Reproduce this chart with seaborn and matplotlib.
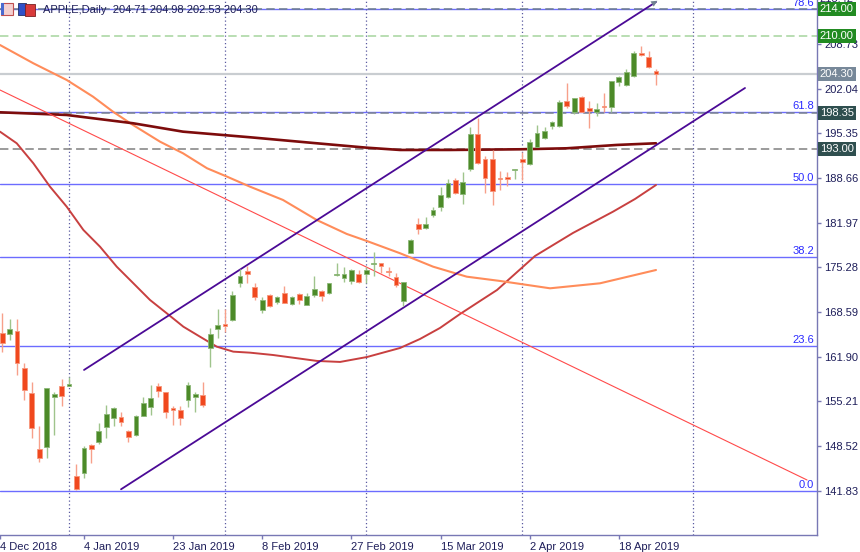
import numpy as np
import pandas as pd
import seaborn as sns
import matplotlib.pyplot as plt
from matplotlib.patches import Rectangle

# ---- daily candles (bar 0 = first visible bar) ----
opens = [165.45, 165.30, 165.75, 160.21, 156.46, 148.07, 148.37, 155.86, 157.51, 157.56,
         144.03, 144.48, 148.67, 149.12, 151.37, 152.77, 152.87, 150.77, 150.16, 153.02,
         154.37, 157.51, 156.61, 154.22, 153.92, 155.41, 155.86, 156.16, 163.25, 166.09,
         166.80, 167.40, 172.94, 174.69, 172.38, 168.89, 171.14, 170.09, 171.39, 169.75,
         171.24, 169.60, 171.19, 171.74, 171.39, 174.09, 173.64, 173.28, 174.29, 174.29,
         175.74, 175.89, 174.73, 173.88, 170.29, 177.47, 181.73, 181.13, 183.12, 184.36,
         185.77, 188.36, 186.22, 189.97, 195.25, 191.46, 191.46, 188.66, 188.81, 189.86,
         191.51, 190.76, 193.35, 194.70, 196.45, 196.45, 200.24, 198.50, 200.84, 199.10,
         198.50, 199.34, 199.30, 203.09, 202.59, 203.98, 207.28, 206.79, 204.71]
highs = [168.44, 167.55, 167.55, 160.96, 158.11, 151.52, 157.21, 156.61, 158.56, 158.81,
         145.83, 148.52, 148.82, 151.97, 154.66, 154.42, 153.62, 150.92, 153.17, 155.86,
         157.66, 157.96, 156.61, 154.51, 154.51, 158.11, 156.61, 158.11, 166.24, 169.04,
         169.00, 171.74, 175.03, 175.53, 172.89, 170.89, 171.29, 170.99, 172.49, 170.99,
         171.48, 171.48, 174.00, 171.89, 172.94, 175.89, 175.29, 175.03, 174.88, 175.29,
         177.63, 175.95, 175.38, 174.39, 173.13, 179.45, 182.72, 182.87, 184.27, 187.36,
         188.47, 188.62, 189.61, 196.26, 197.60, 191.96, 192.86, 189.71, 189.52, 190.01,
         192.50, 194.46, 196.60, 196.35, 197.24, 200.34, 202.85, 200.69, 200.94, 200.20,
         199.85, 201.35, 203.19, 203.94, 204.99, 207.69, 208.43, 207.73, 204.98]
lows = [162.60, 164.40, 159.16, 155.41, 149.72, 146.13, 146.72, 150.16, 154.51, 157.50,
        141.90, 143.73, 145.98, 148.82, 149.72, 151.52, 151.52, 149.12, 150.02, 153.02,
        153.17, 155.86, 152.72, 151.67, 151.67, 154.37, 153.62, 154.37, 160.31, 164.70,
        165.60, 167.25, 172.34, 172.89, 170.39, 168.40, 169.39, 169.79, 169.90, 169.64,
        169.75, 169.60, 170.89, 170.29, 171.35, 173.99, 173.13, 172.79, 172.89, 172.89,
        174.00, 174.48, 173.99, 172.38, 169.49, 177.40, 180.23, 180.98, 182.87, 183.72,
        185.62, 186.27, 184.77, 189.76, 190.76, 186.46, 184.62, 186.87, 187.51, 188.47,
        188.36, 190.61, 193.26, 194.46, 195.96, 196.35, 199.19, 198.20, 198.50, 196.20,
        197.99, 198.50, 198.50, 202.49, 202.49, 203.79, 206.98, 205.09, 202.53]
closes = [163.95, 166.05, 160.96, 156.91, 151.22, 146.72, 157.21, 156.31, 156.01, 157.81,
          142.10, 148.22, 148.07, 150.77, 153.32, 154.27, 152.12, 149.87, 153.02, 154.97,
          155.71, 156.76, 153.62, 153.92, 152.72, 157.66, 156.31, 154.66, 165.25, 166.69,
          166.52, 171.14, 173.99, 174.24, 170.89, 170.39, 169.49, 170.80, 169.99, 170.80,
          170.39, 170.99, 171.99, 171.04, 172.89, 174.29, 174.24, 174.88, 173.13, 174.88,
          175.89, 175.53, 174.54, 172.59, 173.04, 179.38, 180.98, 181.73, 183.87, 186.12,
          187.96, 186.46, 188.11, 195.25, 190.96, 188.71, 186.72, 188.47, 188.56, 189.97,
          191.06, 194.10, 195.45, 195.70, 197.00, 200.09, 199.49, 200.69, 198.59, 198.74,
          198.99, 199.25, 203.19, 203.79, 204.54, 207.39, 207.13, 205.24, 204.30]

# ---- moving averages (bar, price) ----
ma_slow_bars = [-0.29, 8.69, 17.61, 24.34, 33.36, 42.34, 49.07, 53.55, 60.28, 69.70, 75.99, 82.72, 88]
ma_slow_vals = [198.50, 198.10, 196.86, 195.60, 194.76, 193.86, 193.20, 192.86, 192.86, 192.96, 193.11, 193.61, 193.86]

ma_mid_bars = [-0.29, 4.20, 8.69, 12.23, 14.92, 17.61, 21.25, 24.34, 27.57, 30.27, 33.36, 37.80,
               42.34, 46.38, 49.07, 53.55, 58.00, 62.53, 67.01, 73.74, 80.47, 88]
ma_mid_vals = [208.58, 205.84, 203.34, 200.84, 198.59, 196.60, 194.10, 192.36, 190.12, 188.86, 187.36, 185.37,
               182.37, 180.28, 179.23, 177.39, 175.38, 173.88, 173.24, 172.14, 172.89, 174.88]

ma_fast_bars = [-0.29, 1.96, 4.20, 6.44, 8.69, 10.93, 13.17, 15.42, 17.66, 19.90, 22.15, 24.39, 26.63,
                28.88, 31.11, 33.36, 36.46, 42.38, 45.48, 49.11, 53.55, 56.24, 58.93, 61.63, 64.32,
                66.61, 71.72, 76.83, 82.22, 85.18, 88]
ma_fast_vals = [195.60, 193.86, 190.86, 187.36, 184.36, 180.88, 178.37, 175.38, 172.89, 170.39, 168.40,
                166.39, 164.89, 163.40, 162.65, 162.50, 162.15, 161.26, 161.11, 161.85, 163.20, 164.55,
                166.20, 168.29, 170.24, 171.89, 176.98, 180.43, 183.62, 185.52, 187.61]

# ---- drawn objects ----
trend_bars = [-0.29, 108.33]
trend_vals = [201.84, 143.43]
chan_up_bars = [11.02, 88.0]
chan_up_vals = [159.91, 215.02]
chan_lo_bars = [16.0, 99.98]
chan_lo_vals = [142.04, 202.14]

fib_low, fib_high = 141.85, 233.55
fib_levels = [0.0, 23.6, 38.2, 50.0, 61.8, 78.6]

level_prices = [214.00, 210.00, 204.30, 198.35, 193.00]
level_colors = ['#228b22', '#228b22', '#778899', '#2f4f4f', '#2f4f4f']
level_lines = ['#6d7d8d', '#a6d49e', '#c9cdd1', '#7d858d', '#808080']
level_styles = ['--', '--', '-', '--', '--']

month_seps = [9, 30, 49, 70, 93]

ytick_vals = [141.83, 148.52, 155.21, 161.90, 168.59, 175.28, 181.97, 188.66, 195.35, 202.04, 208.73]
xtick_bars = [-0.29, 11, 23, 35, 47, 59, 71, 83]
xtick_labels = ['4 Dec 2018', '4 Jan 2019', '23 Jan 2019', '8 Feb 2019', '27 Feb 2019',
                '15 Mar 2019', '2 Apr 2019', '18 Apr 2019']

sns.set_theme(style='white')
plt.rcParams['font.family'] = ['Liberation Sans', 'DejaVu Sans']

fig = plt.figure(figsize=(8.6, 5.52), dpi=100)
ax = fig.add_axes([0, 17 / 552, 817 / 860, 535 / 552])
ax.set_facecolor('white')

frame = '#7878b4'
navy = '#1e1e5a'

# fibonacci levels
rng = fib_high - fib_low
for lv in fib_levels:
    p = fib_low + rng * lv / 100
    ax.axhline(p, color='#6c6cff', lw=1, zorder=1)
    ax.text(0.9965, p + 0.15, f'{lv:.1f}', transform=ax.get_yaxis_transform(),
            ha='right', va='bottom', color='#2a2aff', fontsize=8, zorder=6)

# horizontal price levels
for p, c, ls in zip(level_prices, level_lines, level_styles):
    if ls == '--':
        ax.axhline(p, color=c, lw=1.1, ls=(0, (5.5, 2.8)), zorder=1.5)
    else:
        ax.axhline(p, color=c, lw=1.6, zorder=1.5)

# month separators
for b in month_seps:
    ax.axvline(b, color='#5a5aa0', lw=0.9, ls=(0, (1, 2)), zorder=1)

# moving averages
ma_df = pd.concat([
    pd.DataFrame({'bar': ma_slow_bars, 'price': ma_slow_vals, 'ma': 'slow'}),
    pd.DataFrame({'bar': ma_mid_bars, 'price': ma_mid_vals, 'ma': 'mid'}),
    pd.DataFrame({'bar': ma_fast_bars, 'price': ma_fast_vals, 'ma': 'fast'}),
])
ma_colors = {'slow': '#7d0c0c', 'mid': '#ff8c5a', 'fast': '#c84040'}
ma_widths = {'slow': 1.9, 'mid': 1.5, 'fast': 1.4}
for name, grp in ma_df.groupby('ma'):
    sns.lineplot(data=grp, x='bar', y='price', ax=ax, color=ma_colors[name],
                 lw=ma_widths[name], sort=False, estimator=None, zorder=2)

# trend line and channel
ax.plot(trend_bars, trend_vals, color='#ff4a4a', lw=0.8, zorder=2)
ax.plot(chan_up_bars, chan_up_vals, color='#4b0a96', lw=1.3, zorder=3)
ax.plot(chan_lo_bars, chan_lo_vals, color='#4b0a96', lw=1.3, zorder=3)
ax.annotate('', xy=(chan_up_bars[1] + 0.5, chan_up_vals[1] + 0.4),
            xytext=(chan_up_bars[1] - 0.6, chan_up_vals[1] - 0.35),
            arrowprops=dict(arrowstyle='-|>', color='#708090', lw=0, mutation_scale=11),
            annotation_clip=False, zorder=4)

# candles
bars = np.arange(len(opens))
o = np.array(opens)
c = np.array(closes)
up = c >= o
body_low = np.minimum(o, c)
body_h = np.maximum(np.abs(c - o), 0.18)
ax.vlines(bars[up], np.array(lows)[up], np.array(highs)[up], color='#9fc48c', lw=1, zorder=4)
ax.vlines(bars[~up], np.array(lows)[~up], np.array(highs)[~up], color='#f7a08a', lw=1, zorder=4)
ax.bar(bars[up], body_h[up], bottom=body_low[up], width=0.64, color='#4c8a28',
       edgecolor='#8cb878', lw=0.6, zorder=5)
ax.bar(bars[~up], body_h[~up], bottom=body_low[~up], width=0.64, color='#f0481e',
       edgecolor='#f7967c', lw=0.6, zorder=5)

# axes
ax.set_xlim(-0.29, 109.67)
ax.set_ylim(135.19, 215.32)
for s in ['left', 'top']:
    ax.spines[s].set_visible(False)
for s in ['right', 'bottom']:
    ax.spines[s].set_color(frame)
    ax.spines[s].set_linewidth(1)
ax.yaxis.tick_right()
ax.set_yticks(ytick_vals)
ax.set_yticklabels([f'{v:.2f}' for v in ytick_vals])
ax.set_xticks(xtick_bars)
ax.set_xticklabels(xtick_labels)
for lbl in ax.get_xticklabels():
    lbl.set_ha('left')
ax.tick_params(axis='y', length=3, width=1, color=frame, labelsize=8, labelcolor=navy, pad=2)
ax.tick_params(axis='x', length=3, width=1, color=frame, labelsize=8, labelcolor=navy, pad=2,
               bottom=True)
ax.set_xlabel('')
ax.set_ylabel('')
ax.text(1.0035, 215.42, '215.42', transform=ax.get_yaxis_transform(), ha='left', va='center',
        color=navy, fontsize=8, clip_on=False, zorder=6)

# price boxes on the right scale
for p, col in zip(level_prices, level_colors):
    ax.text(1.0035, p, f'{p:.2f}', transform=ax.get_yaxis_transform(), ha='left', va='center',
            color='white', fontsize=8, clip_on=False, zorder=7,
            bbox=dict(boxstyle='square,pad=0.18', fc=col, ec='none'))

# header
fig.patches.append(Rectangle((1 / 860, 1 - 15 / 552), 12 / 860, 12 / 552, transform=fig.transFigure,
                             fc='#f4d0d0', ec='#c05050', lw=0.8))
fig.patches.append(Rectangle((1 / 860, 1 - 15 / 552), 3 / 860, 12 / 552, transform=fig.transFigure,
                             fc='#4a6ad0', ec='none'))
fig.patches.append(Rectangle((18 / 860, 1 - 15 / 552), 8 / 860, 12 / 552, transform=fig.transFigure,
                             fc='#3050c8', ec='#20306a', lw=0.6))
fig.patches.append(Rectangle((25 / 860, 1 - 16 / 552), 10 / 860, 12 / 552, transform=fig.transFigure,
                             fc='#d83a3a', ec='#7a2020', lw=0.6))
fig.text(43 / 860, 1 - 10 / 552, 'APPLE,Daily  204.71 204.98 202.53 204.30', ha='left', va='center',
         color=navy, fontsize=8)

fig.savefig('out.png', dpi=100)
